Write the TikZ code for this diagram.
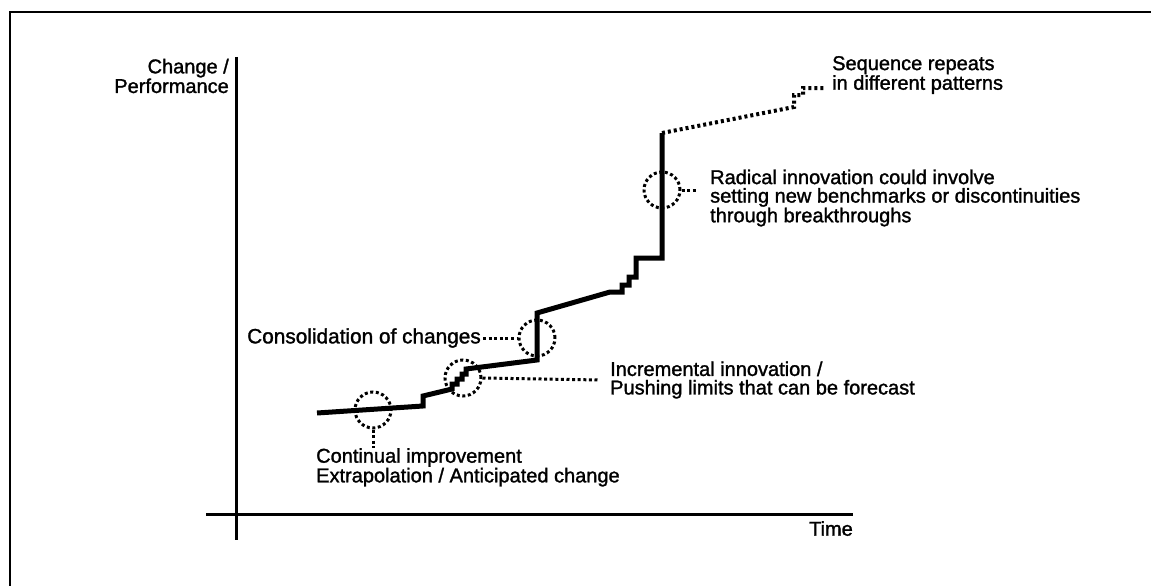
\documentclass[tikz,border=0pt]{standalone}
\usepackage{fontspec}
\setmainfont{Liberation Sans}[FakeBold=1.4]
\begin{document}
\begin{tikzpicture}[x=1pt,y=-1pt,
  lbl/.style={inner sep=0pt,align=left,font=\fontsize{20}{18.5}\selectfont},
  axis/.style={line width=3pt},
  curve/.style={line width=5pt,line join=miter},
  dotcurve/.style={line width=4pt,dash pattern=on 3pt off 3pt},
  ring/.style={circle,draw,minimum size=36pt,inner sep=0pt,line width=3pt,dash pattern=on 3pt off 2.6pt},
  lead/.style={line width=3pt,dash pattern=on 3pt off 2.6pt}]
\useasboundingbox (0,0) rectangle (1151,586);
\clip (0,0) rectangle (1151,586);
\fill[white] (0,0) rectangle (1151,586);
% frame
\draw[line width=2pt] (10,600) -- (10,12) -- (1170,12);
% axes
\draw[axis] (236,57) -- (236,540);
\draw[axis] (206,514) -- (853,514);
\node[lbl,anchor=east,align=right] (ylab) at (229,76) {Change /\\Performance};
\node[lbl,anchor=north east] (xlab) at (853,521) {Time};
% main curve
\coordinate (p0) at (317,413);
\coordinate (pend) at (662,133);
\draw[curve] (p0) -- (423,406) -- (423,396) -- (452,389) -- (452,384) -- (457,384) -- (457,379)
  -- (462,379) -- (462,374) -- (466,374) -- (466,369) -- (537,360) -- (537,313) -- (610,292)
  -- (622,292) -- (622,285) -- (629,285) -- (629,277) -- (636,277) -- (636,258) -- (662,258) -- (pend);
\coordinate (send) at (826,88);
\draw[dotcurve] (pend) -- (794,107) -- (794,95) -- (803,95) -- (803,88) -- (send);
% rings
\node[ring] (c1) at (373,410) {};
\node[ring] (c2) at (463,378) {};
\node[ring] (c3) at (537,338) {};
\node[ring] (c4) at (662,190) {};
% labels
\node[lbl,anchor=north west] (t1) at (316,448) {Continual improvement\\Extrapolation / Anticipated change};
\node[lbl,anchor=west] (t2) at (610,380) {Incremental innovation /\\Pushing limits that can be forecast};
\node[lbl,anchor=east,font=\fontsize{20.8}{19}\selectfont] (t3) at (481,338) {Consolidation of changes};
\node[lbl,anchor=west] (t4) at (710,198) {Radical innovation could involve\\setting new benchmarks or discontinuities\\through breakthroughs};
\node[lbl,anchor=west] (t5) at (832,75) {Sequence repeats\\in different patterns};
% leaders
\draw[lead] (c1.south) -- (c1.south |- t1.north);
\draw[lead] (c2.east) -- ([xshift=-10pt]t2.west);
\draw[lead] ([xshift=2pt]t3.east) -- (c3.west);
\draw[lead] (c4.east) -- ([xshift=-12pt]t4.west |- c4.east);
\end{tikzpicture}
\end{document}
